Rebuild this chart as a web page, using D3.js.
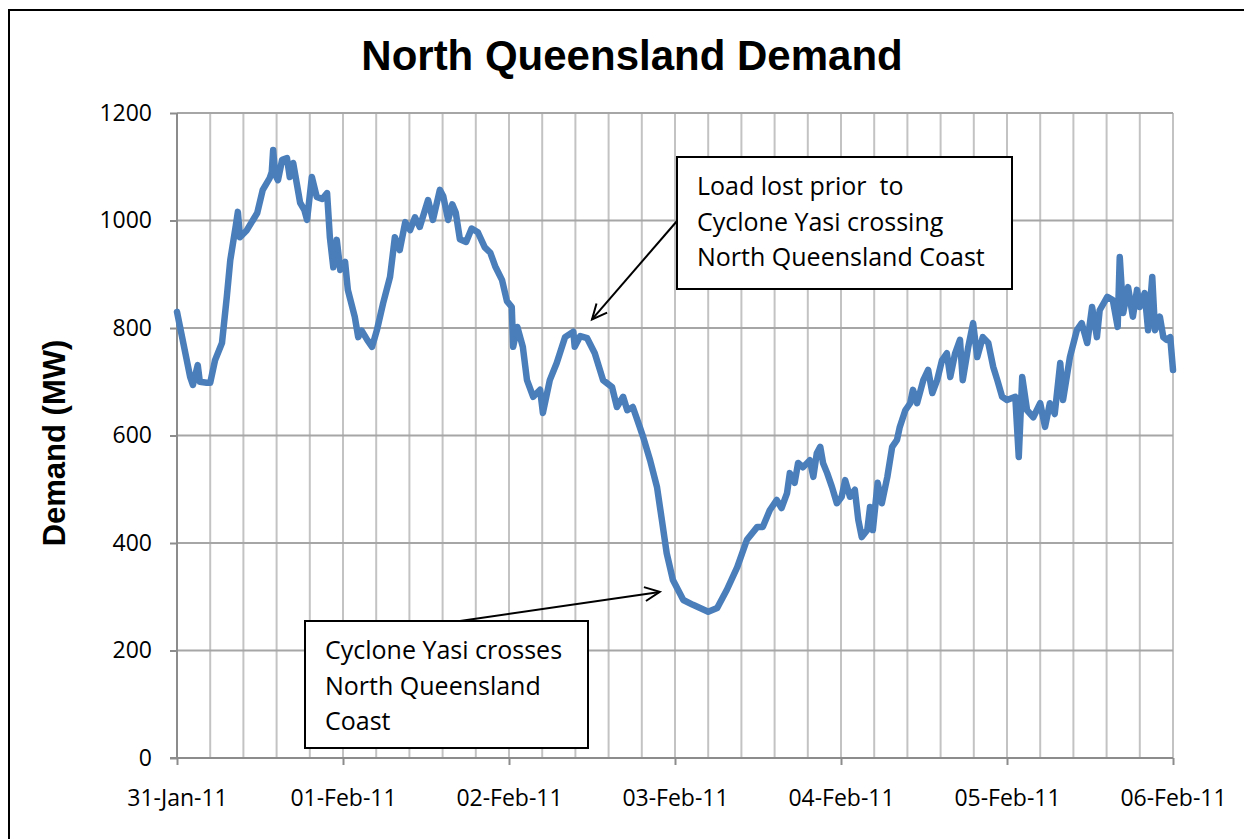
<!DOCTYPE html>
<html>
<head>
<meta charset="utf-8">
<script src="https://cdnjs.cloudflare.com/ajax/libs/d3/7.8.5/d3.min.js"></script>
<style>
  body { margin: 0; background: #fff; }
  svg { display: block; }
</style>
</head>
<body>
<div id="chart"></div>
<script>
// hours after 00:00 31-Jan-11
var hours = [0, 1.9, 2.3, 3.0, 3.3, 4.3, 4.8, 5.5, 6.5, 7.2, 7.7, 8.1, 8.5, 8.8, 9.1, 10.1, 11.6, 12.4, 13.4, 13.7,
  13.9, 14.2, 14.6, 15.2, 15.9, 16.3, 16.8, 17.3, 17.8, 18.4, 18.8, 19.5, 20.2, 21.0, 21.7, 22.1, 22.6, 23.1, 23.6, 24.3,
  24.7, 25.7, 26.2, 26.7, 27.5, 28.2, 28.9, 29.8, 30.8, 31.5, 32.2, 33.0, 33.7, 34.4, 35.1, 36.3, 37.0, 38.0, 38.5, 39.2,
  39.8, 40.3, 40.9, 41.8, 42.6, 43.5, 44.5, 45.3, 46.0, 47.0, 47.7, 48.4, 48.6, 49.2, 50.0, 50.6, 51.5, 52.5, 52.9, 53.9,
  54.9, 56.1, 57.3, 57.5, 58.3, 59.3, 60.4, 61.6, 62.9, 63.6, 64.5, 65.1, 65.9, 66.9, 67.4, 68.4, 69.4, 70.1, 70.8, 71.7,
  73.2, 74.6, 76.8, 78.1, 79.5, 81.0, 82.4, 83.9, 84.7, 85.7, 86.7, 87.4, 88.2, 88.6, 89.3, 89.8, 90.5, 91.5, 92.0, 92.5,
  93.0, 93.4, 94.0, 94.7, 95.4, 96.1, 96.6, 97.3, 98.0, 98.5, 99.0, 99.8, 100.2, 100.6, 101.3, 101.9, 102.7, 103.4, 104.1, 104.5,
  105.3, 106.0, 106.4, 107.0, 107.9, 108.6, 109.2, 109.9, 110.6, 111.3, 111.8, 112.5, 113.2, 113.6, 114.4, 115.1, 115.7, 116.5, 117.3, 118.0,
  118.6, 119.3, 120.0, 121.2, 121.7, 122.2, 122.9, 123.8, 124.8, 125.5, 126.2, 126.9, 127.7, 128.1, 129.1, 130.1, 130.8, 131.6, 132.3, 133.0,
  133.4, 134.5, 135.3, 136.0, 136.3, 136.8, 137.5, 138.2, 138.8, 139.2, 139.9, 140.4, 141.0, 141.4, 142.1, 142.6, 143.1, 143.6, 144.0];

var demand = [830, 709, 694, 731, 700, 698, 698, 740, 772, 858, 926, 958, 990, 1016, 969, 982, 1014, 1057, 1079, 1090,
  1131, 1085, 1075, 1113, 1116, 1081, 1107, 1070, 1033, 1020, 1001, 1081, 1044, 1040, 1051, 969, 913, 964, 908, 923,
  871, 821, 783, 795, 778, 765, 796, 846, 895, 969, 945, 997, 982, 1006, 988, 1038, 1001, 1057, 1045, 1001,
  1030, 1015, 965, 960, 985, 978, 950, 940, 915, 889, 850, 839, 765, 802, 765, 703, 672, 685, 642, 703,
  735, 783, 793, 765, 785, 781, 753, 703, 690, 653, 672, 647, 653, 616, 597, 554, 504, 443, 381, 331,
  294, 285, 272, 279, 313, 355, 406, 430, 430, 461, 480, 465, 493, 530, 512, 549, 541, 554, 523, 567,
  579, 549, 530, 504, 474, 486, 517, 486, 499, 443, 411, 424, 467, 424, 512, 474, 523, 579, 592, 616,
  647, 660, 685, 660, 703, 722, 679, 703, 740, 753, 709, 753, 778, 703, 765, 809, 746, 783, 772, 728,
  703, 672, 666, 672, 560, 709, 647, 634, 660, 616, 660, 640, 735, 666, 746, 796, 809, 772, 839, 783,
  833, 858, 852, 802, 932, 828, 876, 821, 871, 839, 865, 796, 895, 796, 821, 783, 778, 783, 722];

var yTicks = [0, 200, 400, 600, 800, 1000, 1200];
var startDay = Date.UTC(2011, 0, 31);
var endDay = Date.UTC(2011, 1, 6);

var W = 1244, H = 839;
var margin = { top: 113, right: 71, bottom: 81, left: 177 };
var width = W - margin.left - margin.right;
var height = H - margin.top - margin.bottom;

var svg = d3.select("#chart").append("svg")
    .attr("width", W)
    .attr("height", H);

// outer frame
svg.append("rect")
    .attr("x", 9).attr("y", 10)
    .attr("width", 1400).attr("height", 1000)
    .attr("fill", "none")
    .attr("stroke", "#000")
    .attr("stroke-width", 2);

var defs = svg.append("defs");
defs.append("marker")
    .attr("id", "arrow")
    .attr("viewBox", "-16 -10 20 20")
    .attr("markerUnits", "userSpaceOnUse")
    .attr("markerWidth", 20).attr("markerHeight", 20)
    .attr("refX", 0).attr("refY", 0)
    .attr("orient", "auto")
  .append("path")
    .attr("d", "M-15,-7L0,0L-15,7")
    .attr("fill", "none")
    .attr("stroke", "#000")
    .attr("stroke-width", 2);

var g = svg.append("g")
    .attr("transform", "translate(" + margin.left + "," + margin.top + ")");

var x = d3.scaleUtc()
    .domain([startDay, endDay])
    .range([0, width]);
var y = d3.scaleLinear()
    .domain([0, 1200])
    .range([height, 0]);

var points = hours.map(function(h, i) { return { t: new Date(startDay + h * 3600e3), v: demand[i] }; });

// vertical gridlines every 4.8 hours
var minor = d3.range(31).map(function(i) { return new Date(startDay + i * 4.8 * 3600e3); });
g.selectAll(".vgrid")
    .data(minor)
  .enter().append("line")
    .attr("class", "vgrid")
    .attr("x1", function(d) { return x(d); })
    .attr("x2", function(d) { return x(d); })
    .attr("y1", 0).attr("y2", height)
    .attr("stroke", "#c3c3c3")
    .attr("stroke-width", 2);

// horizontal gridlines
g.selectAll(".hgrid")
    .data(yTicks.slice(1))
  .enter().append("line")
    .attr("class", "hgrid")
    .attr("x1", 0).attr("x2", width)
    .attr("y1", function(d) { return y(d); })
    .attr("y2", function(d) { return y(d); })
    .attr("stroke", "#a6a6a6")
    .attr("stroke-width", 2);

// y axis
var yAxis = g.append("g")
    .call(d3.axisLeft(y).tickValues(yTicks).tickFormat(d3.format("d")).tickSize(7).tickPadding(18));
yAxis.selectAll("path, line").attr("stroke", "#8c8c8c").attr("stroke-width", 2);
yAxis.selectAll("text")
    .style("font-family", "Open Sans")
    .style("font-size", "23px")
    .attr("fill", "#000");
yAxis.select(".domain").attr("d", "M0," + height + "V0");

// x axis
var xAxis = g.append("g")
    .attr("transform", "translate(0," + height + ")")
    .call(d3.axisBottom(x).ticks(d3.utcDay.every(1)).tickFormat(d3.utcFormat("%d-%b-%y")).tickSize(7).tickPadding(25));
xAxis.selectAll("path, line").attr("stroke", "#8c8c8c").attr("stroke-width", 2);
xAxis.select(".domain").attr("d", "M-7,0H" + width);
xAxis.selectAll("text")
    .style("font-family", "Open Sans")
    .style("font-size", "23px")
    .attr("fill", "#000");

// demand line
var line = d3.line()
    .x(function(d) { return x(d.t); })
    .y(function(d) { return y(d.v); });
g.append("path")
    .datum(points)
    .attr("d", line)
    .attr("fill", "none")
    .attr("stroke", "#4a7ebb")
    .attr("stroke-width", 6.5)
    .attr("stroke-linejoin", "round")
    .attr("stroke-linecap", "round");

// title
svg.append("text")
    .attr("x", 632).attr("y", 70)
    .attr("text-anchor", "middle")
    .style("font-family", "Liberation Sans")
    .style("font-weight", "bold")
    .style("font-size", "42px")
    .text("North Queensland Demand");

// y label
svg.append("text")
    .attr("transform", "translate(65,443) rotate(-90)")
    .attr("text-anchor", "middle")
    .style("font-family", "Liberation Sans")
    .style("font-weight", "bold")
    .style("font-size", "31px")
    .text("Demand (MW)");

// annotations
function callout(box, lines, from, tipHour, tipVal) {
    var a = svg.append("g");
    a.append("line")
        .attr("x1", from[0]).attr("y1", from[1])
        .attr("x2", margin.left + x(new Date(startDay + tipHour * 3600e3)))
        .attr("y2", margin.top + y(tipVal))
        .attr("stroke", "#000")
        .attr("stroke-width", 2)
        .attr("marker-end", "url(#arrow)");
    a.append("rect")
        .attr("x", box.x).attr("y", box.y)
        .attr("width", box.w).attr("height", box.h)
        .attr("fill", "#fff")
        .attr("stroke", "#000")
        .attr("stroke-width", 2);
    a.selectAll("text")
        .data(lines)
      .enter().append("text")
        .attr("x", box.x + 20)
        .attr("y", function(d, i) { return box.y + 38 + i * 35.5; })
        .style("font-family", "Open Sans")
        .style("font-size", "25px")
        .style("white-space", "pre")
        .text(function(d) { return d; });
}

callout({ x: 677, y: 157, w: 335, h: 132 },
    ["Load lost prior  to", "Cyclone Yasi crossing", "North Queensland Coast"],
    [677, 221], 60, 816);
callout({ x: 305, y: 621, w: 283, h: 127 },
    ["Cyclone Yasi crosses", "North Queensland", "Coast"],
    [460, 621], 69.8, 309);
</script>
</body>
</html>
